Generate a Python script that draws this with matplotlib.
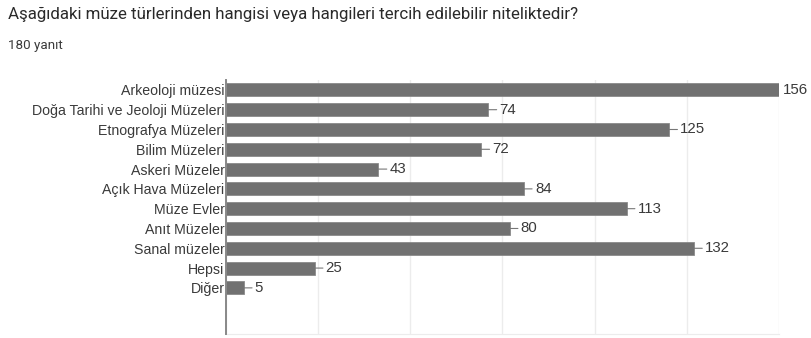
import numpy as np
import matplotlib
matplotlib.use("Agg")
import matplotlib.pyplot as plt

# survey answers (180 responses)
categories = [
    "Arkeoloji müzesi",
    "Doğa Tarihi ve Jeoloji Müzeleri",
    "Etnografya Müzeleri",
    "Bilim Müzeleri",
    "Askeri Müzeler",
    "Açık Hava Müzeleri",
    "Müze Evler",
    "Anıt Müzeler",
    "Sanal müzeler",
    "Hepsi",
    "Diğer",
]
counts = [156, 74, 125, 72, 43, 84, 113, 80, 132, 25, 5]
title = "Aşağıdaki müze türlerinden hangisi veya hangileri tercih edilebilir niteliktedir?"
subtitle = "180 yanıt"
grid_ticks = [0, 26, 52, 78, 104, 130, 156]

W, H = 811, 338
fig = plt.figure(figsize=(W / 100, H / 100), dpi=100)

# axes box in pixels: left 226, right 779, top 80, bottom 334
ax = fig.add_axes([226 / W, 1 - 334 / H, (779 - 226) / W, (334 - 80) / H])

y = np.arange(len(categories))
ax.barh(y, counts, height=0.66, color="#717171", edgecolor="#8a8a8a",
        linewidth=0.6, zorder=3)

ax.set_xlim(0, max(counts))
ax.set_ylim(12.33, -0.5)
ax.set_xticks(grid_ticks)
ax.set_xticklabels([])
ax.set_yticks(y)
ax.set_yticklabels(categories, fontfamily="Liberation Sans", fontsize=10.2,
                   color="#3a3a3a")
ax.tick_params(length=0, pad=1)
ax.grid(axis="x", color="#ececec", lw=1.0, zorder=0)

for s in ["top", "right"]:
    ax.spines[s].set_visible(False)
ax.spines["bottom"].set_color("#ececec")
ax.spines["left"].set_color("#888888")
ax.spines["left"].set_linewidth(1.4)
ax.spines["left"].set_zorder(4)

for i, v in enumerate(counts):
    if v == max(counts):
        ax.annotate(str(v), xy=(v, i), xytext=(3, 0), textcoords="offset points",
                    va="center", ha="left", fontsize=10.8, color="#3a3a3a",
                    fontfamily="Liberation Sans", annotation_clip=False)
    else:
        ax.annotate(str(v), xy=(v, i), xytext=(8, 0), textcoords="offset points",
                    va="center", ha="left", fontsize=10.8, color="#3a3a3a",
                    fontfamily="Liberation Sans",
                    arrowprops=dict(arrowstyle="-", color="#777777", lw=0.8,
                                    shrinkA=0, shrinkB=0))

fig.text(8 / W, 1 - 14 / H, title, fontfamily="Roboto", fontsize=12.2,
         color="#2a2a2a", va="center", ha="left")
fig.text(8 / W, 1 - 45 / H, subtitle, fontfamily="Roboto", fontsize=9.6,
         color="#3a3a3a", va="center", ha="left")

fig.savefig("out.png", dpi=100, facecolor="white")
